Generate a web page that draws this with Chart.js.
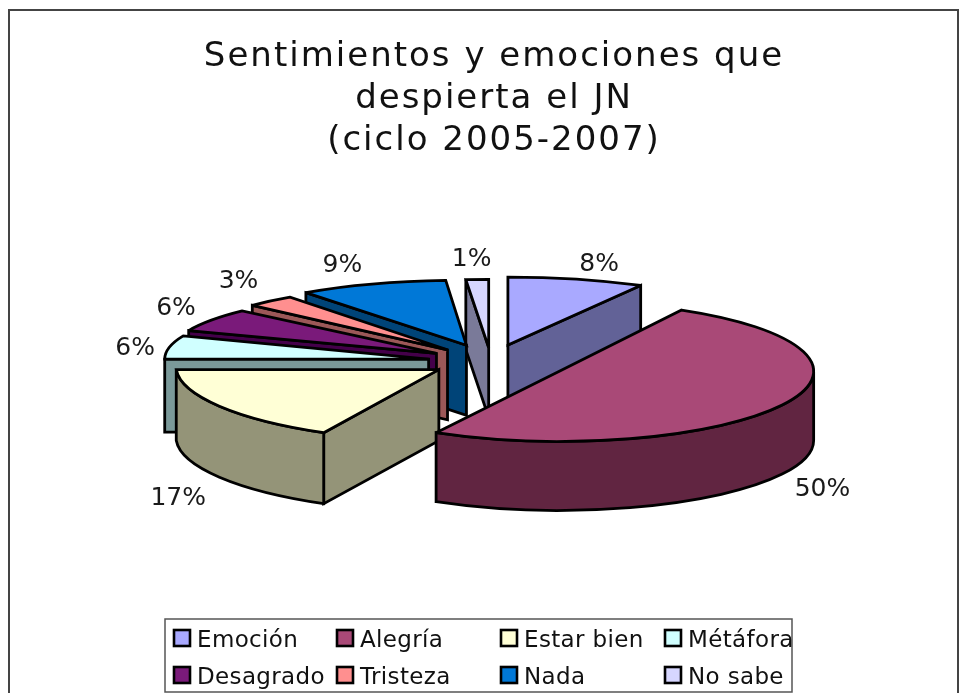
<!DOCTYPE html>
<html><head><meta charset="utf-8">
<script src="https://cdn.jsdelivr.net/npm/chart.js@4"></script>
<style>html,body{margin:0;padding:0;background:#fff;overflow:hidden}
#w{position:relative;width:966px;height:693px}canvas{display:block}</style>
</head><body><div id="w"><canvas id="c" width="966" height="693"></canvas></div>
<script>
const categories = ['Emoción','Alegría','Estar bien','Métáfora','Desagrado','Tristeza','Nada','No sabe'];
const percentages = [8,50,17,6,6,3,9,1];
const titleLines = ['Sentimientos y emociones que','despierta el JN','(ciclo 2005-2007)'];
const topColors = ['#A9A9FF','#A94977','#FFFFD6','#D0FFFF','#7A1A7A','#FF8F8F','#0078D7','#D6D6FF'];
const wallColors = ['#626297','#612541','#949478','#7A9999','#44004A','#9C5858','#004478','#7A7A99'];
const explode = [70,78,60,63,64,65,71,58];
const widthScale = [1.06,0.98,1.01,1.015,1.025,1.03,1.03,1.4];
const faceHeight = [68,70,72,63,62,65,65,68];
const faceShear = [0,0,0.18,0,0,0,0.06,0];
const wallDepth = [70,69,71,73,70,70,70,70];
const paintOrder = [7,0,6,5,4,3,2,1];
const labelNudge = [[28,-13],[41,84],[-42,93],[-44,3],[-46,-7],[-41,-16],[-38,-14],[-9,-18]];
const SQUASH = 0.25, RADIUS = 260, CENTER_SHIFT = -3.5;

function geom(arc,i){
  const mid=(arc.startAngle+arc.endAngle)/2, d=explode[i];
  const ax=arc.x+CENTER_SHIFT+Math.cos(mid)*d, ay=arc.y+Math.sin(mid)*d*SQUASH;
  return {mid,ax,ay,rx:arc.outerRadius*widthScale[i],ry:faceHeight[i],k:faceShear[i],depth:wallDepth[i]};
}
const pie3d={
  id:'pie3d',
  beforeDraw(chart){ chart.ctx.letterSpacing='2px'; },
  beforeDatasetDraw(chart,args){
    const ctx=chart.ctx, arcs=args.meta.data;
    ctx.save();
    ctx.lineJoin='miter';ctx.miterLimit=3;ctx.lineCap='round';
    paintOrder.forEach(i=>{
      const arc=arcs[i],g=geom(arc,i),a0=arc.startAngle,a1=arc.endAngle;
      const pt=a=>[g.ax+Math.cos(a)*g.rx+g.k*Math.sin(a)*g.ry,g.ay+Math.sin(a)*g.ry];
      const faceArc=(dy,from,to,ccw)=>{
        ctx.save();ctx.transform(1,0,g.k,1,g.ax,g.ay+dy);
        ctx.ellipse(0,0,g.rx,g.ry,0,from,to,ccw);ctx.restore();
      };
      ctx.lineWidth=2.8;ctx.strokeStyle='#000';ctx.fillStyle=wallColors[i];
      [[a0,-Math.cos(a0)],[a1,Math.cos(a1)]].forEach(([a,facing])=>{
        if(facing<=1e-9) return;
        const p=pt(a);
        ctx.beginPath();ctx.moveTo(g.ax,g.ay);ctx.lineTo(p[0],p[1]);
        ctx.lineTo(p[0],p[1]+g.depth);ctx.lineTo(g.ax,g.ay+g.depth);ctx.closePath();
        ctx.fill();ctx.stroke();
      });
      const w0=Math.max(a0,0),w1=Math.min(a1,Math.PI);
      if(w0<w1){
        ctx.beginPath();faceArc(0,w0,w1,false);faceArc(g.depth,w1,w0,true);ctx.closePath();
        ctx.fill();ctx.stroke();
      }
      // top face: filled by the library's own arc element, squashed
      ctx.save();
      ctx.translate(g.ax,g.ay);ctx.transform(1,0,g.k,1,0,0);
      ctx.scale(g.rx/arc.outerRadius,g.ry/arc.outerRadius);ctx.translate(-arc.x,-arc.y);
      arc.draw(ctx);
      ctx.restore();
      ctx.beginPath();ctx.moveTo(g.ax,g.ay);faceArc(0,a0,a1,false);ctx.closePath();
      ctx.stroke();
    });
    ctx.restore();
    return false;
  },
  afterDraw(chart){
    const ctx=chart.ctx, arcs=chart.getDatasetMeta(0).data;
    ctx.save();
    ctx.letterSpacing='0px';
    ctx.strokeStyle='#444';ctx.lineWidth=2;
    ctx.beginPath();ctx.moveTo(9,700);ctx.lineTo(9,10);ctx.lineTo(958,10);ctx.lineTo(958,700);ctx.stroke();
    ctx.fillStyle='#1a1a1a';ctx.font='25px "DejaVu Sans"';ctx.textAlign='center';ctx.textBaseline='middle';
    arcs.forEach((arc,i)=>{
      const g=geom(arc,i);
      ctx.fillText(percentages[i]+'%',g.ax+Math.cos(g.mid)*254+labelNudge[i][0],g.ay+Math.sin(g.mid)*70+labelNudge[i][1]);
    });
    ctx.fillStyle='#fff';ctx.strokeStyle='#555';ctx.lineWidth=1.5;
    ctx.fillRect(165,619,627,73);ctx.strokeRect(165,619,627,73);
    const cols=[173,336,500,664],rows=[629,666];
    ctx.font='23px "DejaVu Sans"';ctx.textAlign='left';ctx.textBaseline='alphabetic';
    ctx.letterSpacing='0.35px';
    categories.forEach((t,i)=>{
      const x=cols[i%4],y=rows[i>>2];
      ctx.fillStyle=topColors[i];ctx.fillRect(x+1,y+1,16,16);
      ctx.strokeStyle='#000';ctx.lineWidth=2.6;ctx.strokeRect(x+1,y+1,16,16);
      ctx.fillStyle='#111';ctx.fillText(t,x+24,y+18);
    });
    ctx.restore();
  }
};
new Chart(document.getElementById('c'),{
  type:'pie',
  data:{labels:categories,datasets:[{data:percentages,backgroundColor:topColors,borderWidth:0,offset:0}]},
  options:{
    responsive:false,animation:false,radius:RADIUS,
    layout:{padding:{left:22,right:0,top:0,bottom:131}},
    events:[],
    plugins:{
      legend:{display:false},tooltip:{enabled:false},
      title:{display:true,text:titleLines,color:'#111',font:{family:'"DejaVu Sans"',size:34,weight:'normal',lineHeight:1.235},padding:{top:36,bottom:0}}
    }
  },
  plugins:[pie3d]
});
</script></body></html>
